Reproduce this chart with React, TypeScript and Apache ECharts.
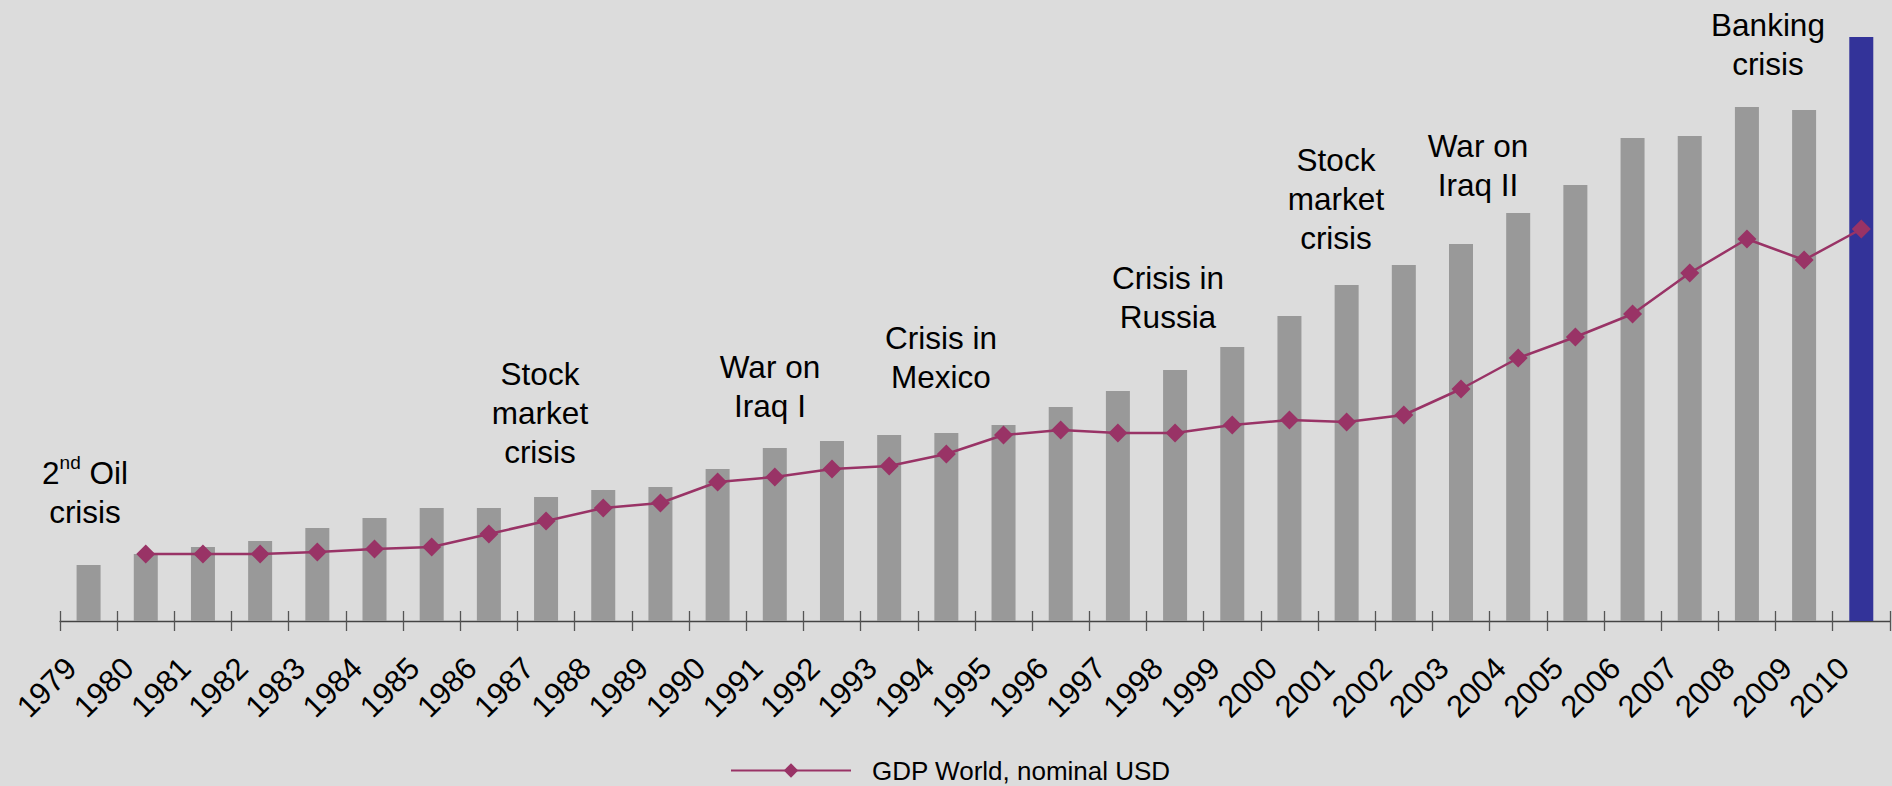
import React, { useEffect, useRef } from "react";
import * as echarts from "echarts";

// Categories (years)
const years: string[] = [
  "1979", "1980", "1981", "1982", "1983", "1984", "1985", "1986", "1987", "1988",
  "1989", "1990", "1991", "1992", "1993", "1994", "1995", "1996", "1997", "1998",
  "1999", "2000", "2001", "2002", "2003", "2004", "2005", "2006", "2007", "2008",
  "2009", "2010",
];

// Bar series (relative index)
const barValues: number[] = [
  56, 67, 74, 80, 93, 103, 113, 113, 124, 131,
  134, 152, 173, 180, 186, 188, 196, 214, 230, 251,
  274, 305, 336, 356, 377, 408, 436, 483, 485, 514,
  511, 584,
];

// GDP World, nominal USD (relative index)
const gdpValues: (number | null)[] = [
  null, 67, 67, 67, 69, 72, 74, 87, 100, 113,
  118, 139, 144, 152, 155, 167, 186, 191, 188, 188,
  196, 201, 199, 206, 232, 263, 284, 307, 348, 382,
  361, 392,
];

const highlightYear = "2010";
const lineName = "GDP World, nominal USD";

// Annotation texts
const annotations = [
  { text: "2{sup|nd} Oil\ncrisis", x: 85, y: 492 },
  { text: "Stock\nmarket\ncrisis", x: 540, y: 413 },
  { text: "War on\nIraq I", x: 770, y: 386 },
  { text: "Crisis in\nMexico", x: 941, y: 357 },
  { text: "Crisis in\nRussia", x: 1168, y: 297 },
  { text: "Stock\nmarket\ncrisis", x: 1336, y: 199 },
  { text: "War on\nIraq II", x: 1478, y: 165 },
  { text: "Banking\ncrisis", x: 1768, y: 44 },
];

const FONT = '"Liberation Sans", Arial, Helvetica, sans-serif';

export default function App() {
  const ref = useRef<HTMLDivElement>(null);

  useEffect(() => {
    if (!ref.current) return;
    const chart = echarts.init(ref.current, null, { renderer: "svg" });

    const barData = barValues.map((v, i) =>
      years[i] === highlightYear
        ? { value: v, itemStyle: { color: "#333399" } }
        : v
    );

    chart.setOption({
      animation: false,
      backgroundColor: "#DCDCDC",
      textStyle: { fontFamily: FONT },
      grid: { left: 60, right: -3, top: 21, bottom: 165 },
      legend: {
        data: [lineName],
        left: 730,
        top: 757,
        padding: 0,
        itemWidth: 120,
        itemHeight: 18,
        itemGap: 0,
        textStyle: {
          fontSize: 26,
          lineHeight: 27,
          color: "#000",
          fontFamily: FONT,
          padding: [0, 0, 0, 16],
        },
      },
      xAxis: [
        {
          type: "category",
          data: years,
          boundaryGap: true,
          axisLine: { show: true, lineStyle: { color: "#444", width: 1.3 } },
          axisTick: {
            show: true,
            inside: true,
            length: 10,
            interval: 0,
            lineStyle: { color: "#555", width: 1.3 },
          },
          axisLabel: { show: false },
          splitLine: { show: false },
        },
        {
          type: "category",
          data: [...years, ""],
          boundaryGap: false,
          position: "bottom",
          axisLine: { show: false },
          axisTick: {
            show: true,
            inside: false,
            length: 10,
            interval: 0,
            lineStyle: { color: "#555", width: 1.3 },
          },
          axisLabel: {
            show: true,
            interval: 0,
            rotate: 45,
            margin: 31,
            fontSize: 31,
            lineHeight: 31,
            verticalAlign: "top",
            color: "#000",
            fontFamily: FONT,
          },
          splitLine: { show: false },
        },
      ],
      yAxis: {
        type: "value",
        min: 0,
        max: 600,
        show: false,
        splitLine: { show: false },
      },
      series: [
        {
          name: "Index",
          type: "bar",
          xAxisIndex: 0,
          data: barData,
          barWidth: 24,
          itemStyle: { color: "#999999" },
        },
        {
          name: lineName,
          type: "line",
          xAxisIndex: 0,
          data: gdpValues,
          symbol: "diamond",
          symbolSize: 19,
          itemStyle: { color: "#993366" },
          lineStyle: { color: "#993366", width: 2.5 },
          connectNulls: false,
        },
      ],
      graphic: annotations.map((a) => ({
        type: "text",
        x: a.x,
        y: a.y,
        z: 100,
        style: {
          text: a.text,
          fill: "#000",
          fontSize: 31.5,
          fontFamily: FONT,
          lineHeight: 39,
          align: "center",
          verticalAlign: "middle",
          rich: {
            sup: {
              fontSize: 19,
              fontFamily: FONT,
              fill: "#000",
              verticalAlign: "top",
              lineHeight: 39,
              padding: [0, 0, 14, 0],
            },
          },
        },
      })),
    });

    return () => chart.dispose();
  }, []);

  return (
    <div
      ref={ref}
      style={{ position: "fixed", left: 0, top: 0, width: 1892, height: 786 }}
    />
  );
}
